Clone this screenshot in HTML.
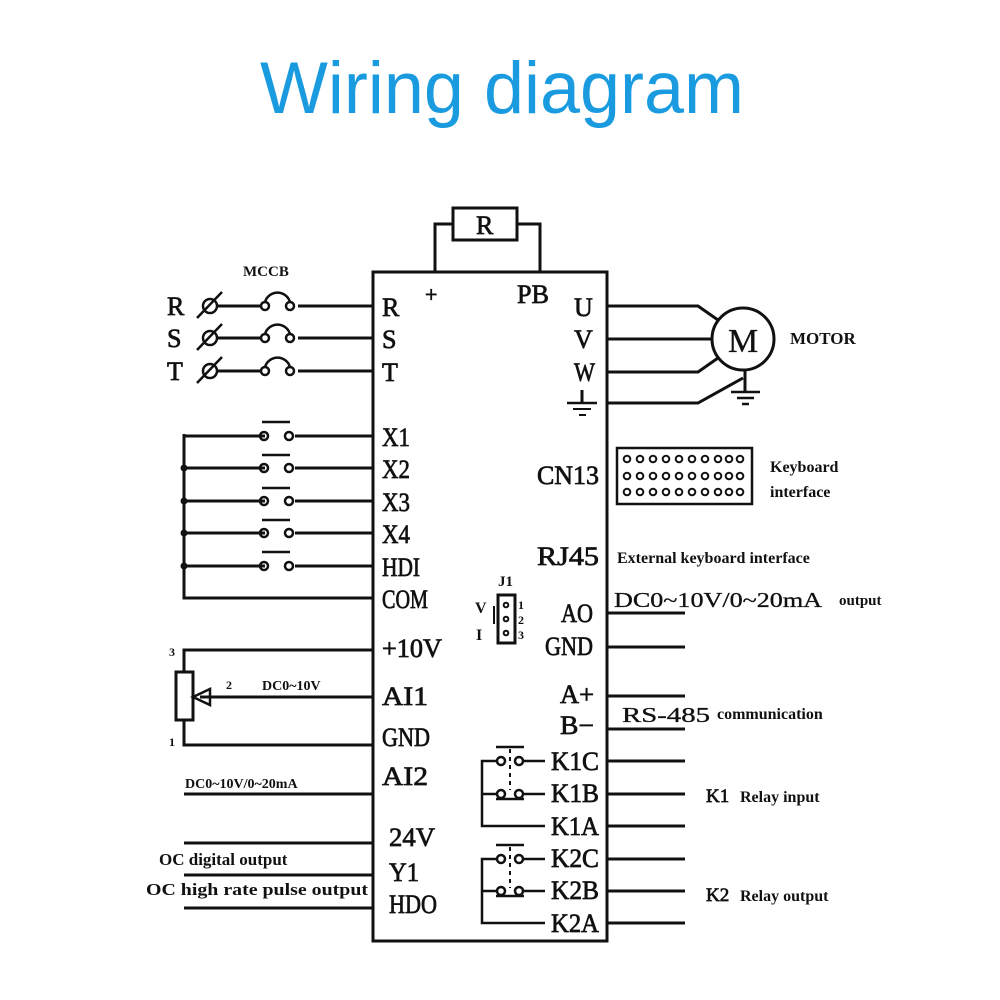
<!DOCTYPE html>
<html><head><meta charset="utf-8"><style>
html,body{margin:0;padding:0;background:#fff;width:1000px;height:1000px;overflow:hidden}
svg{display:block}
.t{font-family:"Liberation Serif",serif;fill:#111;stroke:#111;stroke-width:0.7}
.s{font-family:"Liberation Serif",serif;fill:#111;font-weight:bold}
</style></head><body>
<svg width="1000" height="1000" viewBox="0 0 1000 1000" xmlns="http://www.w3.org/2000/svg">
<text x="502" y="113" text-anchor="middle" font-family="Liberation Sans, sans-serif" font-size="73" fill="#1a9be0" textLength="484" lengthAdjust="spacingAndGlyphs">Wiring diagram</text>
<g stroke="#111" stroke-width="3" fill="none">
<rect x="373" y="272" width="234" height="669"/>
<rect x="453" y="208" width="64" height="32"/>
<polyline points="435,272 435,224 453,224"/>
<polyline points="517,224 540,224 540,272"/>
<line x1="218" y1="306" x2="262" y2="306"/><line x1="298" y1="306" x2="373" y2="306"/>
<line x1="218" y1="338" x2="262" y2="338"/><line x1="298" y1="338" x2="373" y2="338"/>
<line x1="218" y1="371" x2="262" y2="371"/><line x1="298" y1="371" x2="373" y2="371"/>
<g stroke-width="2.5">
<circle cx="210" cy="306" r="7"/><line x1="197" y1="318" x2="222" y2="292"/>
<circle cx="210" cy="338" r="7"/><line x1="197" y1="350" x2="222" y2="324"/>
<circle cx="210" cy="371" r="7"/><line x1="197" y1="383" x2="222" y2="357"/>
<circle cx="265" cy="306" r="4"/><circle cx="290" cy="306" r="4"/><path d="M265,302 A13,13 0 0 1 290,302"/>
<circle cx="265" cy="338" r="4"/><circle cx="290" cy="338" r="4"/><path d="M265,334 A13,13 0 0 1 290,334"/>
<circle cx="265" cy="371" r="4"/><circle cx="290" cy="371" r="4"/><path d="M265,367 A13,13 0 0 1 290,367"/>
</g>
<polyline points="373,436 295,436"/><line x1="184" y1="436" x2="265" y2="436"/>
<line x1="184" y1="468" x2="265" y2="468"/><line x1="295" y1="468" x2="373" y2="468"/>
<line x1="184" y1="501" x2="265" y2="501"/><line x1="295" y1="501" x2="373" y2="501"/>
<line x1="184" y1="533" x2="265" y2="533"/><line x1="295" y1="533" x2="373" y2="533"/>
<line x1="184" y1="566" x2="265" y2="566"/><line x1="295" y1="566" x2="373" y2="566"/>
<polyline points="184,434 184,598 373,598"/>
<g stroke-width="2.5">
<circle cx="264" cy="436" r="4"/><circle cx="289" cy="436" r="4"/><line x1="262" y1="422" x2="290" y2="422"/>
<circle cx="264" cy="468" r="4"/><circle cx="289" cy="468" r="4"/><line x1="262" y1="455" x2="290" y2="455"/>
<circle cx="264" cy="501" r="4"/><circle cx="289" cy="501" r="4"/><line x1="262" y1="488" x2="290" y2="488"/>
<circle cx="264" cy="533" r="4"/><circle cx="289" cy="533" r="4"/><line x1="262" y1="520" x2="290" y2="520"/>
<circle cx="264" cy="566" r="4"/><circle cx="289" cy="566" r="4"/><line x1="262" y1="552" x2="290" y2="552"/>
</g>
<polyline points="373,650 184,650 184,672"/>
<rect x="176" y="672" width="17" height="48"/>
<polyline points="184,720 184,745 373,745"/>
<line x1="200" y1="697" x2="373" y2="697"/>
<polygon points="193,697 210,689 210,705" stroke-width="2.5"/>
<line x1="184" y1="794" x2="373" y2="794"/>
<line x1="184" y1="843" x2="373" y2="843"/>
<line x1="184" y1="875" x2="373" y2="875"/>
<line x1="184" y1="908" x2="373" y2="908"/>
<circle cx="743" cy="339" r="31"/>
<polyline points="607,306 698,306 718,320"/>
<line x1="607" y1="339" x2="712" y2="339"/>
<polyline points="607,372 698,372 718,358"/>
<polyline points="607,403 698,403 743,378"/>
<line x1="745" y1="370" x2="745" y2="392"/>
<line x1="731" y1="392" x2="760" y2="392" stroke-width="2.5"/>
<line x1="737" y1="398" x2="754" y2="398" stroke-width="2.5"/>
<line x1="742" y1="404" x2="749" y2="404" stroke-width="2.5"/>
<line x1="582" y1="390" x2="582" y2="403"/>
<line x1="567" y1="403" x2="597" y2="403" stroke-width="2.5"/>
<line x1="573" y1="409" x2="591" y2="409" stroke-width="2"/>
<line x1="579" y1="415" x2="586" y2="415" stroke-width="2"/>
<rect x="617" y="448" width="135" height="56" stroke-width="2.5"/>
<rect x="498" y="595" width="17" height="48" stroke-width="3"/>
<line x1="494" y1="606" x2="494" y2="624" stroke-width="2"/>
<line x1="607" y1="613" x2="685" y2="613"/>
<line x1="607" y1="647" x2="685" y2="647"/>
<line x1="607" y1="696" x2="685" y2="696"/>
<line x1="607" y1="729" x2="685" y2="729"/>
<line x1="607" y1="761" x2="685" y2="761"/>
<line x1="607" y1="794" x2="685" y2="794"/>
<line x1="607" y1="826" x2="685" y2="826"/>
<line x1="607" y1="859" x2="685" y2="859"/>
<line x1="607" y1="891" x2="685" y2="891"/>
<line x1="607" y1="923" x2="685" y2="923"/>
<g stroke-width="2.5">
<polyline points="497,761 482,761 482,826 545,826"/>
<line x1="482" y1="794" x2="497" y2="794"/>
<circle cx="501" cy="761" r="4"/><circle cx="519" cy="761" r="4"/><line x1="523" y1="761" x2="545" y2="761"/>
<circle cx="501" cy="794" r="4"/><circle cx="519" cy="794" r="4"/><line x1="523" y1="794" x2="545" y2="794"/>
<line x1="496" y1="747" x2="524" y2="747"/><line x1="496" y1="799" x2="524" y2="799"/>
<line x1="510" y1="749" x2="510" y2="790" stroke-dasharray="4,4" stroke-width="2"/>
<polyline points="497,859 482,859 482,923 545,923"/>
<line x1="482" y1="891" x2="497" y2="891"/>
<circle cx="501" cy="859" r="4"/><circle cx="519" cy="859" r="4"/><line x1="523" y1="859" x2="545" y2="859"/>
<circle cx="501" cy="891" r="4"/><circle cx="519" cy="891" r="4"/><line x1="523" y1="891" x2="545" y2="891"/>
<line x1="496" y1="845" x2="524" y2="845"/><line x1="496" y1="896" x2="524" y2="896"/>
<line x1="510" y1="847" x2="510" y2="888" stroke-dasharray="4,4" stroke-width="2"/>
</g>
</g>
<g fill="#111">
<circle cx="184" cy="468" r="3.5"/><circle cx="184" cy="501" r="3.5"/><circle cx="184" cy="533" r="3.5"/><circle cx="184" cy="566" r="3.5"/>
</g>
<g fill="none" stroke="#111" stroke-width="2">
<circle cx="627" cy="459" r="3.3"/><circle cx="640" cy="459" r="3.3"/><circle cx="653" cy="459" r="3.3"/><circle cx="666" cy="459" r="3.3"/><circle cx="679" cy="459" r="3.3"/><circle cx="692" cy="459" r="3.3"/><circle cx="705" cy="459" r="3.3"/><circle cx="718" cy="459" r="3.3"/><circle cx="740" cy="459" r="3.3"/><circle cx="729" cy="459" r="3.3"/>
<circle cx="627" cy="476" r="3.3"/><circle cx="640" cy="476" r="3.3"/><circle cx="653" cy="476" r="3.3"/><circle cx="666" cy="476" r="3.3"/><circle cx="679" cy="476" r="3.3"/><circle cx="692" cy="476" r="3.3"/><circle cx="705" cy="476" r="3.3"/><circle cx="718" cy="476" r="3.3"/><circle cx="729" cy="476" r="3.3"/><circle cx="740" cy="476" r="3.3"/>
<circle cx="627" cy="492" r="3.3"/><circle cx="640" cy="492" r="3.3"/><circle cx="653" cy="492" r="3.3"/><circle cx="666" cy="492" r="3.3"/><circle cx="679" cy="492" r="3.3"/><circle cx="692" cy="492" r="3.3"/><circle cx="705" cy="492" r="3.3"/><circle cx="718" cy="492" r="3.3"/><circle cx="729" cy="492" r="3.3"/><circle cx="740" cy="492" r="3.3"/>
<circle cx="506" cy="605" r="2.3"/><circle cx="506" cy="619" r="2.3"/><circle cx="506" cy="633" r="2.3"/>
</g>
<g class="t" font-size="26">
<text x="476" y="234">R</text>
<text x="167" y="315">R</text><text x="167" y="347">S</text><text x="167" y="380">T</text>
<text x="425" y="302" font-size="22">+</text>
<text x="382" y="316">R</text>
<text x="382" y="348">S</text>
<text x="382" y="381">T</text>
<text x="382" y="446" textLength="28" lengthAdjust="spacingAndGlyphs">X1</text>
<text x="382" y="478" textLength="28" lengthAdjust="spacingAndGlyphs">X2</text>
<text x="382" y="511" textLength="28" lengthAdjust="spacingAndGlyphs">X3</text>
<text x="382" y="543" textLength="28" lengthAdjust="spacingAndGlyphs">X4</text>
<text x="382" y="576" textLength="38" lengthAdjust="spacingAndGlyphs">HDI</text>
<text x="382" y="608" textLength="46" lengthAdjust="spacingAndGlyphs">COM</text>
<text x="382" y="657" textLength="60" lengthAdjust="spacingAndGlyphs">+10V</text>
<text x="382" y="705" textLength="46" lengthAdjust="spacingAndGlyphs">AI1</text>
<text x="382" y="746" textLength="48" lengthAdjust="spacingAndGlyphs">GND</text>
<text x="382" y="785" textLength="46" lengthAdjust="spacingAndGlyphs">AI2</text>
<text x="389" y="846" textLength="46" lengthAdjust="spacingAndGlyphs">24V</text>
<text x="389" y="881" textLength="30" lengthAdjust="spacingAndGlyphs">Y1</text>
<text x="389" y="913" textLength="48" lengthAdjust="spacingAndGlyphs">HDO</text>
<text x="517" y="303" textLength="32" lengthAdjust="spacingAndGlyphs">PB</text>
<text x="574" y="316">U</text>
<text x="574" y="348">V</text>
<text x="574" y="381" textLength="21" lengthAdjust="spacingAndGlyphs">W</text>
<text x="537" y="484" textLength="62" lengthAdjust="spacingAndGlyphs">CN13</text>
<text x="537" y="565" textLength="62" lengthAdjust="spacingAndGlyphs">RJ45</text>
<text x="561" y="622" textLength="32" lengthAdjust="spacingAndGlyphs">AO</text>
<text x="545" y="655" textLength="48" lengthAdjust="spacingAndGlyphs">GND</text>
<text x="560" y="703" textLength="34" lengthAdjust="spacingAndGlyphs">A+</text>
<text x="560" y="734" textLength="34" lengthAdjust="spacingAndGlyphs">B−</text>
<text x="551" y="770" textLength="48" lengthAdjust="spacingAndGlyphs">K1C</text>
<text x="551" y="802" textLength="48" lengthAdjust="spacingAndGlyphs">K1B</text>
<text x="551" y="835" textLength="48" lengthAdjust="spacingAndGlyphs">K1A</text>
<text x="551" y="867" textLength="48" lengthAdjust="spacingAndGlyphs">K2C</text>
<text x="551" y="899" textLength="48" lengthAdjust="spacingAndGlyphs">K2B</text>
<text x="551" y="932" textLength="48" lengthAdjust="spacingAndGlyphs">K2A</text>
<text x="728" y="352" font-size="34" stroke-width="0.3">M</text>
<text x="614" y="607" font-size="21" stroke-width="0.3" textLength="208" lengthAdjust="spacingAndGlyphs">DC0~10V/0~20mA</text>
<text x="622" y="722" font-size="21" stroke-width="0.3" textLength="88" lengthAdjust="spacingAndGlyphs">RS-485</text>
<text x="706" y="802" font-size="19">K1</text>
<text x="706" y="901" font-size="19">K2</text>
</g>
<g class="s" font-size="16">
<text x="243" y="276" font-size="15">MCCB</text>
<text x="790" y="344" font-size="17">MOTOR</text>
<text x="770" y="472">Keyboard</text>
<text x="770" y="497">interface</text>
<text x="617" y="563">External keyboard interface</text>
<text x="839" y="605" font-size="15">output</text>
<text x="717" y="719">communication</text>
<text x="740" y="802">Relay input</text>
<text x="740" y="901">Relay output</text>
<text x="169" y="656" font-size="12">3</text>
<text x="226" y="689" font-size="12">2</text>
<text x="169" y="746" font-size="12">1</text>
<text x="262" y="690" font-size="14">DC0~10V</text>
<text x="185" y="788" font-size="14">DC0~10V/0~20mA</text>
<text x="159" y="865" font-size="17">OC digital output</text>
<text x="146" y="895" font-size="17" textLength="222" lengthAdjust="spacingAndGlyphs">OC high rate pulse output</text>
<text x="498" y="586" font-size="15">J1</text>
<text x="475" y="613" font-size="16">V</text>
<text x="476" y="640" font-size="16">I</text>
<text x="518" y="609" font-size="12">1</text>
<text x="518" y="624" font-size="12">2</text>
<text x="518" y="639" font-size="12">3</text>
</g>
</svg>
</body></html>
